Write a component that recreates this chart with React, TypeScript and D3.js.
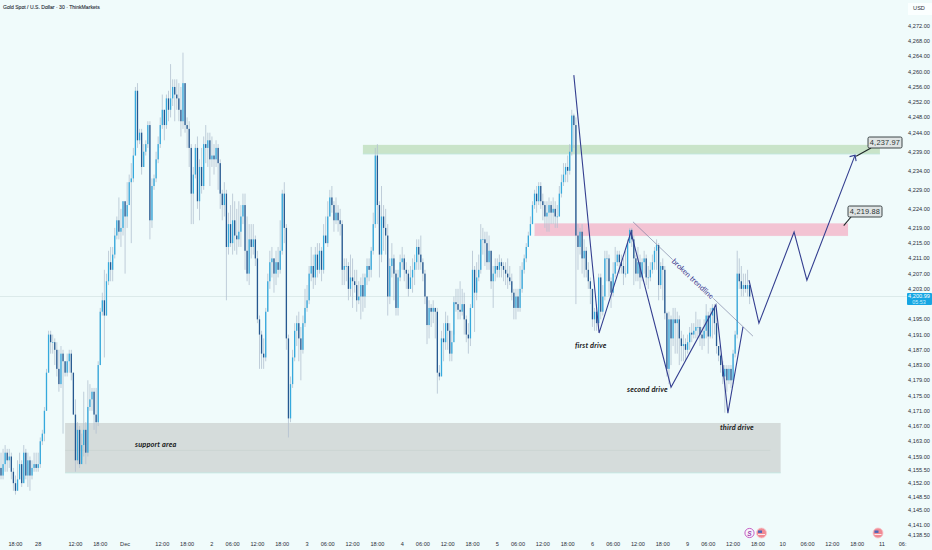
import * as d3 from "d3"

const firstOpen = 4156

// one row = 12 bars = 6 hours
const closes = [
  4154, 4157, 4160, 4158, 4159, 4155, 4152, 4150, 4153, 4157, 4152, 4160,
  4154, 4158, 4154, 4156, 4157, 4156, 4157, 4163, 4165, 4171, 4181, 4191,
  4189, 4189, 4187, 4182, 4178, 4186, 4184, 4181, 4184, 4186, 4181, 4170,
  4158, 4166, 4157, 4162, 4166, 4160, 4172, 4174, 4176, 4170, 4168, 4183,
  4197, 4200, 4196, 4205, 4210, 4208, 4212, 4217, 4221, 4218, 4219, 4226,
  4222, 4225, 4231, 4232, 4238, 4255, 4242, 4244, 4235, 4239, 4241, 4246,
  4221, 4230, 4232, 4237, 4241, 4246, 4250, 4246, 4253, 4250, 4253, 4256,
  4254, 4253, 4250, 4247, 4257, 4246, 4245, 4240, 4228, 4233, 4240, 4226,
  4235, 4230, 4241, 4240, 4242, 4237, 4238, 4237, 4240, 4236, 4228, 4225,
  4228, 4214, 4220, 4215, 4221, 4217, 4216, 4218, 4222, 4225, 4213, 4207,
  4216, 4214, 4216, 4211, 4195, 4191, 4186, 4185, 4197, 4205, 4210, 4211,
  4207, 4210, 4208, 4213, 4228, 4219, 4190, 4169, 4178, 4185, 4192, 4194,
  4190, 4187, 4194, 4198, 4200, 4207, 4209, 4206, 4212, 4208, 4213, 4208,
  4217, 4215, 4222, 4227, 4225, 4221, 4223, 4221, 4220, 4208, 4209, 4209,
  4203, 4206, 4205, 4204, 4200, 4201, 4204, 4201, 4206, 4209, 4208, 4213,
  4220, 4238, 4225, 4212, 4222, 4219, 4217, 4201, 4209, 4211, 4207, 4198,
  4206, 4210, 4211, 4208, 4207, 4203, 4206, 4208, 4210, 4214, 4212, 4210,
  4207, 4201, 4193.5, 4198, 4197, 4198, 4197, 4181, 4180, 4190, 4189, 4194,
  4192, 4186, 4189, 4199.5, 4199, 4197.5, 4197, 4199, 4195, 4191, 4190, 4198,
  4208, 4202, 4206, 4208, 4216, 4216, 4215, 4210, 4213, 4205, 4207, 4209,
  4208, 4210, 4209, 4208, 4207, 4206, 4205, 4202, 4198, 4201, 4198, 4203,
  4208, 4211, 4214, 4217, 4220, 4225, 4228, 4226, 4230, 4226, 4225, 4222,
  4223, 4225, 4223, 4224, 4222, 4222, 4228, 4231, 4233, 4235, 4234, 4239,
  4248.5, 4246, 4217, 4214, 4218, 4211, 4213, 4208, 4205, 4203, 4195, 4197,
  4194, 4206, 4197, 4201, 4211, 4211, 4205, 4202, 4207, 4210, 4212, 4210,
  4209, 4207, 4207, 4215, 4218.5, 4216, 4211, 4207, 4210, 4206, 4210, 4211,
  4206, 4206, 4208, 4210, 4213, 4214.5, 4204, 4209, 4208, 4196.6, 4182, 4195,
  4190, 4195, 4194, 4195, 4190, 4188, 4188.5, 4187, 4189, 4191.5, 4191, 4192,
  4193, 4193, 4191, 4190, 4192, 4196, 4190.5, 4196, 4198, 4194, 4188, 4185.5,
  4183, 4180, 4182, 4179, 4182, 4179, 4186, 4191, 4207, 4205, 4203, 4204,
  4203, 4204, 4200.99,
]

const highs = [
  4160, 4161, 4162, 4161, 4161, 4160, 4156, 4154, 4158, 4160, 4158, 4162,
  4161, 4160, 4159, 4158, 4160, 4160, 4160, 4164, 4166, 4172, 4182, 4192,
  4192, 4191, 4190, 4189, 4187, 4188, 4187, 4184, 4186, 4187, 4187, 4181,
  4174, 4168, 4167, 4165, 4176, 4168, 4179, 4178, 4177, 4177, 4177, 4184,
  4198, 4202, 4208, 4207, 4213, 4214, 4214, 4219, 4222, 4227, 4224, 4226,
  4226, 4231, 4233, 4236, 4240, 4256, 4257, 4245, 4245, 4241, 4242, 4247,
  4247, 4232, 4233, 4239, 4243, 4248, 4254, 4250, 4254, 4255, 4262, 4258,
  4258, 4258, 4257, 4256, 4265, 4257, 4248, 4247, 4241, 4235, 4241, 4243,
  4237, 4240, 4243, 4246, 4244, 4244, 4243, 4241, 4242, 4241, 4237, 4229,
  4231, 4229, 4223, 4225, 4228, 4226, 4224, 4226, 4225, 4228, 4228, 4222,
  4220, 4220, 4220, 4217, 4213, 4196, 4192, 4190, 4198, 4207, 4213, 4214,
  4211, 4213, 4214, 4221, 4229, 4231, 4220, 4191, 4180, 4187, 4194, 4196,
  4197, 4193, 4196, 4203, 4204, 4209, 4214, 4212, 4214, 4215, 4215, 4214,
  4220, 4222, 4226, 4229, 4230, 4226, 4227, 4225, 4224, 4221, 4211, 4211,
  4210, 4212, 4211, 4208, 4208, 4205, 4206, 4207, 4207, 4211, 4211, 4214,
  4223, 4240, 4241, 4226, 4230, 4225, 4224, 4220, 4211, 4215, 4212, 4208,
  4208, 4212, 4214, 4212, 4210, 4208, 4209, 4211, 4212, 4216, 4216, 4217,
  4211, 4208, 4201, 4200, 4199, 4200, 4198, 4198, 4183, 4192, 4194, 4197,
  4196, 4194, 4192, 4201, 4203, 4203, 4205, 4203, 4202, 4196, 4194, 4199,
  4213, 4209, 4210, 4212, 4220, 4219, 4218, 4218, 4217, 4213, 4209, 4211,
  4211, 4212, 4211, 4210, 4210, 4211, 4209, 4207, 4203, 4203, 4203, 4209,
  4210, 4212, 4215, 4218, 4222, 4226, 4229, 4230, 4231, 4231, 4228, 4226,
  4226, 4227, 4226, 4227, 4226, 4225, 4230, 4233, 4236, 4236, 4238, 4241,
  4250, 4249, 4248, 4220, 4219, 4220, 4216, 4214, 4210, 4206, 4203, 4198,
  4199, 4207, 4207, 4204, 4213, 4213, 4212, 4206, 4210, 4214, 4213, 4213,
  4212, 4211, 4213, 4216, 4219, 4219, 4217, 4212, 4214, 4212, 4211, 4213,
  4212, 4209, 4210, 4212, 4214, 4216, 4215, 4210, 4211, 4209, 4197, 4197,
  4196, 4198, 4198, 4197, 4196, 4192, 4191, 4190, 4191, 4193, 4194, 4194,
  4197, 4195, 4195, 4193, 4195, 4199, 4197, 4198, 4199, 4199, 4198, 4188,
  4186, 4184, 4183, 4183, 4183, 4183, 4187, 4192, 4213, 4211, 4209, 4207,
  4207, 4208, 4205,
]

const lows = [
  4153, 4153, 4155, 4155, 4156, 4153, 4150, 4149, 4151, 4153, 4151, 4153,
  4153, 4151, 4150, 4153, 4155, 4155, 4155, 4156, 4162, 4163, 4171, 4181,
  4186, 4186, 4183, 4180, 4176, 4177, 4165, 4180, 4180, 4181, 4179, 4170,
  4155, 4157, 4156, 4158, 4159, 4157, 4159, 4171, 4171, 4166, 4165, 4167,
  4183, 4196, 4185, 4196, 4204, 4205, 4205, 4211, 4216, 4216, 4214, 4217,
  4207, 4219, 4226, 4215, 4231, 4238, 4240, 4241, 4233, 4235, 4238, 4240,
  4216, 4219, 4229, 4231, 4236, 4240, 4245, 4242, 4245, 4247, 4248, 4251,
  4247, 4250, 4247, 4243, 4245, 4244, 4240, 4235, 4220, 4220, 4232, 4224,
  4221, 4228, 4229, 4236, 4235, 4230, 4235, 4233, 4235, 4229, 4224, 4221,
  4222, 4200, 4212, 4214, 4212, 4213, 4212, 4214, 4214, 4220, 4208, 4205,
  4204, 4211, 4212, 4209, 4194, 4182, 4182, 4182, 4184, 4197, 4203, 4206,
  4202, 4204, 4206, 4207, 4212, 4215, 4187, 4164, 4168, 4177, 4184, 4188,
  4184, 4179, 4186, 4193, 4197, 4199, 4205, 4203, 4204, 4206, 4207, 4205,
  4207, 4215, 4214, 4222, 4223, 4218, 4220, 4218, 4217, 4204, 4204, 4205,
  4200, 4201, 4198, 4202, 4197, 4199, 4195, 4197, 4198, 4204, 4205, 4206,
  4212, 4219, 4220, 4206, 4210, 4213, 4212, 4196, 4199, 4206, 4200, 4196,
  4196, 4205, 4208, 4205, 4203, 4201, 4203, 4202, 4204, 4208, 4208, 4208,
  4205, 4199, 4188.5, 4190, 4193, 4194, 4190, 4175.5, 4179, 4183, 4184, 4187,
  4187, 4184, 4184, 4191, 4197, 4195, 4195, 4196, 4191, 4189, 4186, 4188,
  4198, 4191.7, 4200, 4205, 4207, 4212, 4209, 4208, 4208, 4203, 4198, 4205,
  4206, 4206, 4206, 4205, 4204, 4203, 4204, 4200, 4195, 4195, 4197, 4197,
  4202, 4207, 4210, 4214, 4217, 4220, 4224, 4223, 4225, 4224, 4221, 4219,
  4218, 4218, 4220, 4220, 4219, 4219, 4222, 4227, 4230, 4231, 4231, 4233,
  4238, 4240, 4199, 4208, 4212, 4207, 4206, 4206, 4203, 4199, 4193, 4192,
  4192, 4193, 4195, 4196, 4200, 4205, 4201, 4198, 4201, 4206, 4209, 4207,
  4207, 4204, 4206, 4207, 4215, 4214, 4204, 4205, 4205, 4203, 4205, 4207,
  4204, 4203, 4205, 4207, 4208, 4208, 4200, 4203, 4200, 4195, 4180, 4178,
  4183, 4188, 4186, 4186, 4183, 4184, 4184, 4184, 4186, 4187, 4189, 4190,
  4190, 4190, 4188, 4187, 4188, 4190, 4186, 4190, 4190, 4191, 4186, 4184,
  4181, 4178, 4170.5, 4176, 4178, 4177, 4178, 4185, 4190, 4203, 4201, 4201,
  4202, 4201, 4199,
]

const priceTicks = [
  4272, 4268, 4264, 4260, 4256, 4252, 4248, 4244, 4239, 4234, 4229, 4224, 4219, 4215, 4211, 4207, 4203,
  4195, 4191, 4187, 4183, 4179, 4175, 4171, 4167, 4163, 4159, 4155.5, 4152, 4148.5, 4145, 4141, 4138.5,
]

const timeTickBars = [
  7, 18, 36, 48, 60, 78, 90, 102, 112, 124, 136, 148, 158, 170, 182, 194, 204, 216, 228, 240, 250, 262, 274,
  286, 296, 308, 320, 332, 342, 354, 366, 378, 390, 402, 414, 426, 436,
]
const timeTickLabels = [
  "18:00", "28", "12:00", "18:00", "Dec", "12:00", "18:00", "2", "06:00", "12:00", "18:00", "3", "06:00",
  "12:00", "18:00", "4", "06:00", "12:00", "18:00", "5", "06:00", "12:00", "18:00", "6", "06:00", "12:00",
  "18:00", "9", "06:00", "12:00", "18:00", "10", "06:00", "12:00", "18:00", "11", "06:",
]

// drawings, as [bar, price]
const driveLeg: [number, number][] = [
  [277, 4259.1], [289.2, 4191.4], [304.6, 4217.9], [324, 4177.2], [345.7, 4198.8], [351.5, 4170.4], [358.8, 4193],
]
const forecastLeg: [number, number][] = [
  [361.7, 4205.3], [366.5, 4194], [383.5, 4217.9], [389.7, 4205.3], [413, 4238.1],
]
const trendLine: [number, number][] = [[305.6, 4220.6], [363.6, 4190.6]]

const width = 932
const height = 550
const bg = "#f0fbfb"
const upColor = "#35a9dd"
const downColor = "#265890"
const wickColor = "#b3c2d0"
const navy = "#343f90"
const labelFont = "Lato, sans-serif"

const x = d3.scaleLinear().domain([0, 440]).range([1, 1 + 440 * 2.068])
const y = d3.scaleLinear().domain([4272, 4138.5]).range([26, 534.6])
const money = d3.format(",.2f")

const line = d3
  .line<[number, number]>()
  .x((d) => x(d[0]))
  .y((d) => y(d[1]))

function Zone({ from, to, top, bottom, fill, edge }: { from: number; to: number; top: number; bottom: number; fill: string; edge: string }) {
  return (
    <g>
      <rect x={x(from)} y={y(top)} width={x(to) - x(from)} height={y(bottom) - y(top)} fill={fill} />
      <line x1={x(from)} x2={x(to)} y1={y(bottom)} y2={y(bottom)} stroke={edge} strokeWidth={0.8} />
    </g>
  )
}

function Callout({ bar, price, label, bx, by }: { bar: number; price: number; label: string; bx: number; by: number }) {
  return (
    <g>
      <line x1={x(bar)} y1={y(price)} x2={bx + 3} y2={by + 11} stroke="#1c2526" strokeWidth={1.1} />
      <rect x={bx} y={by} width={34} height={11} rx={1.5} fill="#dfe4e4" stroke="#2b3435" strokeWidth={0.9} />
      <text x={bx + 17} y={by + 8.2} textAnchor="middle" fontSize={7.4} fill="#2b3435" letterSpacing={0.2}>
        {label}
      </text>
    </g>
  )
}

function FlagDot({ cx }: { cx: number }) {
  return (
    <g>
      <circle cx={cx} cy={533} r={5} fill="#f08a94" stroke="#f6c4ca" strokeWidth={0.8} />
      <rect x={cx - 3.5} y={530.5} width={4} height={2.4} fill="#4a64b8" />
      <rect x={cx - 3.5} y={534} width={7} height={1} fill="#fbe9ea" />
    </g>
  )
}

export default function App() {
  const trendAngle = (Math.atan2(y(trendLine[1][1]) - y(trendLine[0][1]), x(trendLine[1][0]) - x(trendLine[0][0])) * 180) / Math.PI
  const tip = forecastLeg[forecastLeg.length - 1]

  return (
    <svg
      width={width}
      height={height}
      style={{ position: "fixed", left: 0, top: 0, fontFamily: "'Liberation Sans', sans-serif" }}
    >
      <rect width={width} height={height} fill={bg} />

      <text x={3} y={8.5} fontSize={5.1} fill="#2a2e39" stroke="#2a2e39" strokeWidth={0.1}>
        Gold Spot / U.S. Dollar · 30 · ThinkMarkets
      </text>

      {/* last price line */}
      <line x1={0} x2={907} y1={y(4200.99)} y2={y(4200.99)} stroke="#d6e4e4" strokeWidth={0.8} />

      <Zone from={31} to={377} top={4167.8} bottom={4154.7} fill="#d5dcdb" edge="#bfe6df" />
      <line x1={x(31)} x2={x(372)} y1={y(4160.6)} y2={y(4160.6)} stroke="#c9d2d1" strokeWidth={0.7} />
      <Zone from={175} to={425} top={4240.8} bottom={4238.4} fill="#c9e4c9" edge="#bfe6df" />
      <Zone from={258} to={409.6} top={4220.2} bottom={4217} fill="#f3c3d3" edge="#f3c3d3" />

      {closes.map((c, i) => {
        const o = i === 0 ? firstOpen : closes[i - 1]
        const top = y(Math.max(o, c))
        const h = Math.max(y(Math.min(o, c)) - top, 0.7)
        return (
          <g key={i}>
            <line x1={x(i)} x2={x(i)} y1={y(highs[i])} y2={y(lows[i])} stroke={wickColor} strokeWidth={0.8} />
            <rect x={x(i) - 0.65} y={top} width={1.3} height={h} fill={c >= o ? upColor : downColor} />
          </g>
        )
      })}

      <path d={line(trendLine) ?? ""} fill="none" stroke="#6d7399" strokeWidth={0.6} />
      <path d={line(driveLeg) ?? ""} fill="none" stroke={navy} strokeWidth={1.1} />
      <path d={line(forecastLeg) ?? ""} fill="none" stroke={navy} strokeWidth={1.1} />
      <path
        d={`M${x(tip[0]) - 5.5},${y(tip[1]) + 1.5}L${x(tip[0])},${y(tip[1])}L${x(tip[0]) + 1},${y(tip[1]) + 6}`}
        fill="none"
        stroke={navy}
        strokeWidth={1.1}
      />

      <text
        transform={`translate(${x(334.5)},${y(4205.6)}) rotate(${trendAngle})`}
        textAnchor="middle"
        dy={2.5}
        fontSize={7.6}
        fontFamily={labelFont}
        fill="#3d3a8f"
        stroke={bg}
        strokeWidth={2.5}
        paintOrder="stroke"
      >
        broken trendline
      </text>

      <g fontSize={7.4} fontWeight={700} fontStyle="italic" fontFamily={labelFont} fill="#1a2021" letterSpacing={0.15}>
        <text x={575} y={348}>first drive</text>
        <text x={627} y={392}>second drive</text>
        <text x={720} y={430}>third drive</text>
        <text x={135} y={447}>support area</text>
      </g>

      <Callout bar={413.5} price={4237.8} label={money(4237.97)} bx={868} by={137} />
      <Callout bar={407.5} price={4219.6} label={money(4219.88)} bx={848} by={206} />

      <rect x={908} y={3} width={24} height={12} fill="#fbffff" />
      <text x={919} y={9.5} textAnchor="middle" fontSize={5.6} fill="#2a2e39">USD</text>

      {priceTicks.map((p) => (
        <text key={p} x={919} y={y(p) + 2} textAnchor="middle" fontSize={5.6} fill="#2a2e39">
          {money(p)}
        </text>
      ))}

      <rect x={907} y={y(4200.99) - 3.5} width={25} height={12} rx={1} fill="#16a6e3" />
      <text x={919} y={y(4200.99) + 1.7} textAnchor="middle" fontSize={5.6} fill="#ffffff">{money(4200.99)}</text>
      <text x={919} y={y(4200.99) + 7.2} textAnchor="middle" fontSize={5.4} fill="#cdeefa">05:53</text>

      {timeTickBars.map((b, i) => (
        <text key={b} x={x(b)} y={546} textAnchor="middle" fontSize={5.6} fill="#2a2e39">
          {timeTickLabels[i]}
        </text>
      ))}

      <circle cx={749.5} cy={533} r={4.6} fill="#f6f4fb" stroke="#c04fc0" strokeWidth={0.9} />
      <text x={749.5} y={535.5} textAnchor="middle" fontSize={6.5} fontWeight={700} fontStyle="italic" fill="#a03fb0">S</text>
      <FlagDot cx={761.5} />
      <FlagDot cx={878} />
    </svg>
  )
}
